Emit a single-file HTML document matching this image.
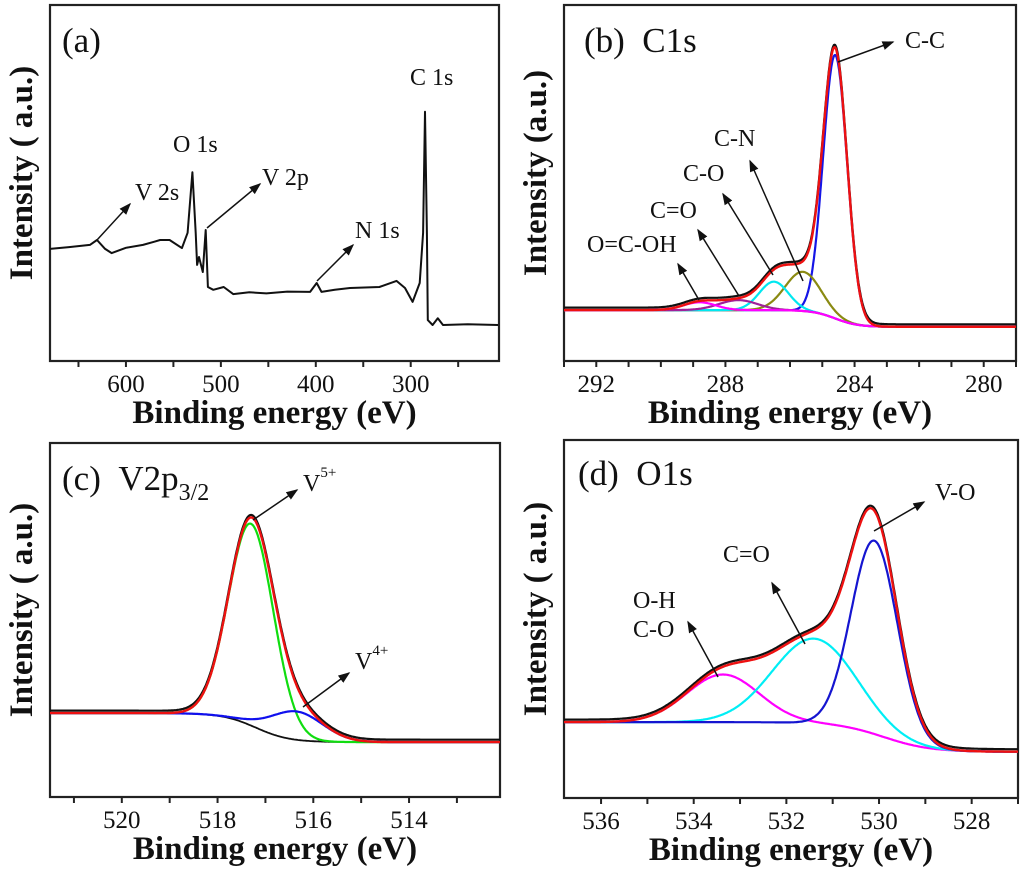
<!DOCTYPE html>
<html><head><meta charset="utf-8"><style>
html,body{margin:0;padding:0;background:#fff}
svg{display:block;font-family:"Liberation Serif",serif}
.tick{font-size:25px;fill:#111}
.ttl{font-size:33px;font-weight:bold;fill:#111}
.ann{font-size:24px;fill:#111}
.plab{font-size:35px;fill:#111}
</style></head><body>
<svg id="fig" width="1024" height="874" viewBox="0 0 1024 874">
<defs><marker id="ah" markerWidth="8" markerHeight="8" refX="7" refY="4" orient="auto"><path d="M0,1 L8,4 L0,7 Z" fill="#111"/></marker></defs>
</svg>
<script>
// ---- Panel (a) survey data ----
const surveyEnergy=[680,660,638,630.5,622,615,600,582,570,564,554,541,535,530,526.5,525,523,519,516,513.7,508,497,487,470,452,430,406,399,394,380,364,333,315,306,298,290.5,287,285,283,282,277,271.5,266,240,208];
const surveyIntensity=[31.5,32,32.6,34,31.5,30.3,31.8,32.6,33.5,34,34,31.7,36,53,36,27,29.2,25,36.8,20.8,20,20.8,18.8,19.3,19,19.5,19.4,21.9,19.4,20,20.5,20.8,22.5,20.5,16.6,21.9,36,70,36,11.5,10.1,12,10.1,10.3,10.1];
const surveyTicks=[600,500,400,300];
// ---- Panel (b) C1s ----
const c1sCenters=[284.6,285.6,286.5,287.6,288.8];
const c1sHeights=[74,11,8,2.8,2.2];
const c1sWidths=[0.37,0.55,0.45,0.6,0.5];
const c1sBackground=[14.3,9.6,284.6,0.35];
const c1sTicks=[292,288,284,280];
// ---- Panel (c) V2p3/2 ----
const v2pCenters=[517.3,516.35];
const v2pHeights=[57,8];
const v2pWidths=[0.47,0.55];
const v2pBackground=[23.7,15.5,517.2,0.35];
const v2pTicks=[520,518,516,514];
// ---- Panel (d) O1s ----
const o1sCenters=[533.37,531.4,530.1];
const o1sHeights=[13.3,23.7,54];
const o1sWidths=[0.78,0.9,0.5];
const o1sBackground=[21.2,12.9,529.9,0.5];
const o1sTicks=[536,534,532,530,528];

const NS="http://www.w3.org/2000/svg";
const svg=document.getElementById('fig');
function mk(tag,attrs,parent){const e=document.createElementNS(NS,tag);for(const k in attrs)e.setAttribute(k,attrs[k]);(parent||svg).appendChild(e);return e;}
function axes(x0,x1,y0,y1,eMax,eMin){return{x:e=>x0+(eMax-e)/(eMax-eMin)*(x1-x0),y:v=>y1-v/100*(y1-y0),x0,x1,y0,y1,eMax,eMin};}
function pathFrom(ax,es,vs){let d='';for(let i=0;i<es.length;i++)d+=(i?'L':'M')+ax.x(es[i]).toFixed(1)+','+ax.y(vs[i]).toFixed(1);return d;}
function bg(b,e){return b[1]+(b[0]-b[1])/(1+Math.exp(-(e-b[2])/b[3]));}
function g(e,c,h,w){return h*Math.exp(-((e-c)*(e-c))/(2*w*w));}
function grid(ax){const es=[];for(let e=ax.eMax;e>=ax.eMin;e-=0.02)es.push(e);return es;}

function frame(ax,name,ticks,minorStep,ytitle){
  const gEl=mk('g',{});
  
  
  const r=mk('rect',{x:ax.x0,y:ax.y0,width:ax.x1-ax.x0,height:ax.y1-ax.y0,fill:'none',stroke:'#222','stroke-width':2.2},gEl);
  
  
  const start=Math.ceil(ax.eMin/minorStep)*minorStep;
  for(let e=start;e<=ax.eMax+1e-9;e+=minorStep){
    const t=mk('line',{x1:ax.x(e),x2:ax.x(e),y1:ax.y1,y2:ax.y1+6,stroke:'#222','stroke-width':2},gEl);
    
    
  }
  ticks.forEach(v=>{
    const t=mk('text',{x:ax.x(v),y:ax.y1+31,'text-anchor':'middle',class:'tick'},gEl);t.textContent=v;
    
    
  });
  const xt=mk('text',{x:(ax.x0+ax.x1)/2,y:ax.y1+62,'text-anchor':'middle',class:'ttl'},gEl);xt.textContent='Binding energy (eV)';
  
  
  const yc=(ax.y0+ax.y1)/2-10, xx=ax.x0-18;
  const yt=mk('text',{x:xx,y:yc,'text-anchor':'middle',class:'ttl',transform:`rotate(-90 ${xx} ${yc})`},gEl);yt.textContent=ytitle;
  
  
  return gEl;
}
function line(ax,es,vs,color,w,name,parent){
  const p=mk('path',{d:pathFrom(ax,es,vs),fill:'none',stroke:color,'stroke-width':w,'stroke-linejoin':'round'},parent);
  
  
  return p;
}
function text(x,y,s,cls,name,parent){const t=mk('text',{x,y,class:cls},parent);t.innerHTML=s;
  
  
  return t;}
function arrow(x1,y1,x2,y2,name,parent){const a=mk('line',{x1,y1,x2,y2,stroke:'#111','stroke-width':1.5,'marker-end':'url(#ah)'},parent);
  
  }

// Panel a
const axA=axes(50,499,5,361,680,207);
const pA=frame(axA,'panel-a-survey',surveyTicks,50,'Intensity ( a.u.)');
line(axA,surveyEnergy,surveyIntensity,'#111',2,'survey-spectrum',pA);
text(62,52,'(a)','plab','panel-label-a',pA);
text(410,85,'C 1s','ann','label-c1s',pA);
text(173,152,'O 1s','ann','label-o1s',pA);
text(262,185,'V 2p','ann','label-v2p',pA);
text(135,200,'V 2s','ann','label-v2s',pA);
text(355,238,'N 1s','ann','label-n1s',pA);
arrow(97,240,130,204,'arrow-v2s',pA);
arrow(207,228,260,184,'arrow-v2p',pA);
arrow(317,281,353,245,'arrow-n1s',pA);

function fitted(ax,group,centers,heights,widths,back,colors,names,envColor,bgColor){
  const es=grid(ax);
  const b=es.map(e=>bg(back,e));
  const env=es.map((e,i)=>b[i]+centers.reduce((s,c,k)=>s+g(e,c,heights[k],widths[k]),0));
  line(ax,es,env.map(v=>v+0.7),'#111',2.2,'raw-data',group);
  if(bgColor)line(ax,es,b,bgColor,1.8,'background',group);
  centers.forEach((c,k)=>{line(ax,es,es.map((e,i)=>b[i]+g(e,c,heights[k],widths[k])),colors[k],2.2,names[k],group);});
  line(ax,es,env,envColor,2.4,'fit-envelope',group);
}
// Panel b
const axB=axes(564,1016,5,361,293,279);
const pB=frame(axB,'panel-b-c1s',c1sTicks,1,'Intensity (a.u.)');
fitted(axB,pB,c1sCenters,c1sHeights,c1sWidths,c1sBackground,['#1515e6','#8a8a12','#00e8f0','#a0209a','#ff00ff'],['peak-c-c','peak-c-n','peak-c-o','peak-c-eq-o','peak-o-c-oh'],'#ee1111','#22cc22');
text(584,52,'(b)&#160;&#160;C1s','plab','panel-label-b',pB);
text(905,48,'C-C','ann','label-c-c',pB);
text(714,146,'C-N','ann','label-c-n',pB);
text(683,181,'C-O','ann','label-c-o',pB);
text(650,218,'C=O','ann','label-c-eq-o',pB);
text(587,252,'O=C-OH','ann','label-o-c-oh',pB);
arrow(838,62,893,42,'arrow-c-c',pB);
arrow(803,281,750,161,'arrow-c-n',pB);
arrow(773,275,723,194,'arrow-c-o',pB);
arrow(739,296,698,230,'arrow-c-eq-o',pB);
arrow(699,300,678,264,'arrow-o-c-oh',pB);

// Panel c
const axC=axes(50,500,443,797,521.5,512.1);
const pC=frame(axC,'panel-c-v2p',v2pTicks,1,'Intensity ( a.u.)');
fitted(axC,pC,v2pCenters,v2pHeights,v2pWidths,v2pBackground,['#10dd10','#1010ee'],['peak-v5','peak-v4'],'#ee1111','#111');
text(62,490,'(c)&#160;&#160;V2p<tspan font-size="24" dy="10">3/2</tspan>','plab','panel-label-c',pC);
text(303,491,'V<tspan font-size="15" dy="-14">5+</tspan>','ann','label-v5',pC);
text(355,669,'V<tspan font-size="15" dy="-14">4+</tspan>','ann','label-v4',pC);
arrow(253,520,297,490,'arrow-v5',pC);
arrow(303,707,349,673,'arrow-v4',pC);

// Panel d
const axD=axes(564,1018,440,798,536.8,527.0);
const pD=frame(axD,'panel-d-o1s',o1sTicks,1,'Intensity ( a.u.)');
fitted(axD,pD,o1sCenters,o1sHeights,o1sWidths,o1sBackground,['#ff00ff','#00eef5','#1515d0'],['peak-o-h','peak-c-eq-o','peak-v-o'],'#ee1111',null);
text(578,485,'(d)&#160;&#160;O1s','plab','panel-label-d',pD);
text(935,500,'V-O','ann','label-v-o',pD);
text(723,562,'C=O','ann','label-c-eq-o',pD);
text(633,608,'O-H','ann','label-o-h',pD);
text(633,637,'C-O','ann','label-c-o',pD);
arrow(874,531,924,502,'arrow-v-o',pD);
arrow(805,644,772,583,'arrow-c-eq-o',pD);
arrow(718,677,688,622,'arrow-o-h',pD);
</script>
</body></html>
